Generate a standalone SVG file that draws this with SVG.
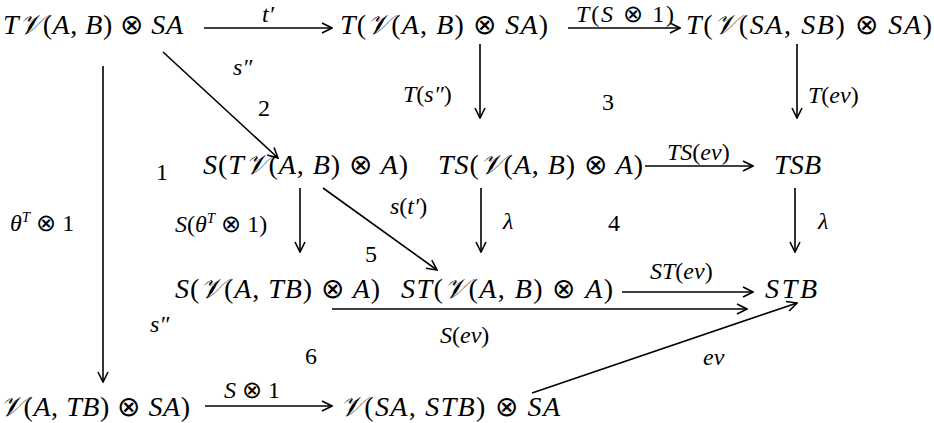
<svg xmlns="http://www.w3.org/2000/svg" width="934" height="423" viewBox="0 0 934 423">
<style>
text{font-family:'Liberation Serif','Times New Roman',serif;font-size:28px;font-style:italic;fill:#000}
.u{font-style:normal}
.lb{font-size:24px}
.n{font-style:normal;font-size:24px}
.c line{stroke:#000;stroke-width:1.6;fill:none}
</style>
<defs>
<marker id="ah" viewBox="0 0 12 12" refX="11" refY="6" markerWidth="12" markerHeight="12" markerUnits="userSpaceOnUse" orient="auto">
<path d="M1,1 L11,6 L1,11" fill="none" stroke="#000" stroke-width="1.6"/>
</marker>
</defs>
<g id="n1"><text x="3" y="34" textLength="180" lengthAdjust="spacing">T𝒱<tspan class="u">(</tspan>A<tspan class="u">, </tspan>B<tspan class="u">) ⊗ </tspan>SA</text></g>
<g id="n2"><text x="340" y="34" textLength="208" lengthAdjust="spacing">T<tspan class="u">(</tspan>𝒱<tspan class="u">(</tspan>A<tspan class="u">, </tspan>B<tspan class="u">) ⊗ </tspan>SA<tspan class="u">)</tspan></text></g>
<g id="n3"><text x="686" y="34" textLength="246" lengthAdjust="spacing">T<tspan class="u">(</tspan>𝒱<tspan class="u">(</tspan>SA<tspan class="u">, </tspan>SB<tspan class="u">) ⊗ </tspan>SA<tspan class="u">)</tspan></text></g>
<g id="n4"><text x="203" y="174" textLength="205" lengthAdjust="spacing">S<tspan class="u">(</tspan>T𝒱<tspan class="u">(</tspan>A<tspan class="u">, </tspan>B<tspan class="u">) ⊗ </tspan>A<tspan class="u">)</tspan></text></g>
<g id="n5"><text x="438" y="174" textLength="205" lengthAdjust="spacing">TS<tspan class="u">(</tspan>𝒱<tspan class="u">(</tspan>A<tspan class="u">, </tspan>B<tspan class="u">) ⊗ </tspan>A<tspan class="u">)</tspan></text></g>
<g id="n6"><text x="774" y="174" textLength="47" lengthAdjust="spacing">TSB</text></g>
<g id="n7"><text x="175" y="298" textLength="205" lengthAdjust="spacing">S<tspan class="u">(</tspan>𝒱<tspan class="u">(</tspan>A<tspan class="u">, </tspan>TB<tspan class="u">) ⊗ </tspan>A<tspan class="u">)</tspan></text></g>
<g id="n8"><text x="401" y="298" textLength="212" lengthAdjust="spacing">ST<tspan class="u">(</tspan>𝒱<tspan class="u">(</tspan>A<tspan class="u">, </tspan>B<tspan class="u">) ⊗ </tspan>A<tspan class="u">)</tspan></text></g>
<g id="n9"><text x="765" y="298" textLength="52" lengthAdjust="spacing">STB</text></g>
<g id="n10"><text x="0" y="416" textLength="190" lengthAdjust="spacing">𝒱<tspan class="u">(</tspan>A<tspan class="u">, </tspan>TB<tspan class="u">) ⊗ </tspan>SA<tspan class="u">)</tspan></text></g>
<g id="n11"><text x="340" y="416" textLength="220" lengthAdjust="spacing">𝒱<tspan class="u">(</tspan>SA<tspan class="u">, </tspan>STB<tspan class="u">) ⊗ </tspan>SA</text></g>
<g class="c" id="connectors">
<line x1="204" y1="28" x2="332" y2="28" marker-end="url(#ah)"/>
<line x1="568" y1="28" x2="680" y2="28" marker-end="url(#ah)"/>
<line x1="163" y1="52" x2="278" y2="158" marker-end="url(#ah)"/>
<line x1="103" y1="66" x2="103" y2="382" marker-end="url(#ah)"/>
<line x1="480" y1="44" x2="480" y2="118" marker-end="url(#ah)"/>
<line x1="797" y1="44" x2="797" y2="118" marker-end="url(#ah)"/>
<line x1="645" y1="166" x2="753" y2="166" marker-end="url(#ah)"/>
<line x1="300" y1="188" x2="300" y2="252" marker-end="url(#ah)"/>
<line x1="323" y1="188" x2="437" y2="270" marker-end="url(#ah)"/>
<line x1="481" y1="188" x2="481" y2="252" marker-end="url(#ah)"/>
<line x1="795" y1="188" x2="795" y2="252" marker-end="url(#ah)"/>
<line x1="622" y1="292" x2="753" y2="292" marker-end="url(#ah)"/>
<line x1="332" y1="309" x2="747" y2="309" marker-end="url(#ah)"/>
<line x1="532" y1="393" x2="797" y2="303" marker-end="url(#ah)"/>
<line x1="205" y1="406" x2="332" y2="406" marker-end="url(#ah)"/>
</g>
<g id="labels">
<text class="lb" x="262" y="22">t′</text>
<text class="lb" x="576" y="22" textLength="98" lengthAdjust="spacing">T<tspan class="u">(</tspan>S<tspan class="u"> ⊗ 1)</tspan></text>
<text class="lb" x="233" y="75">s″</text>
<text class="n" x="258" y="116">2</text>
<text class="lb" x="403" y="102">T<tspan class="u">(</tspan>s″<tspan class="u">)</tspan></text>
<text class="n" x="602" y="110">3</text>
<text class="lb" x="808" y="103">T<tspan class="u">(</tspan>ev<tspan class="u">)</tspan></text>
<text class="lb" x="667" y="160">TS<tspan class="u">(</tspan>ev<tspan class="u">)</tspan></text>
<text class="n" x="156" y="180">1</text>
<text class="lb" x="10" y="231">θ<tspan font-size="15" dy="-9">T</tspan><tspan class="u" dy="9"> ⊗ 1</tspan></text>
<text class="lb" x="175" y="232">S<tspan class="u">(</tspan>θ<tspan font-size="15" dy="-9">T</tspan><tspan class="u" dy="9"> ⊗ 1)</tspan></text>
<text class="lb" x="390" y="214">s<tspan class="u">(</tspan>t′<tspan class="u">)</tspan></text>
<text class="lb" x="503" y="229">λ</text>
<text class="n" x="608" y="231">4</text>
<text class="lb" x="818" y="229">λ</text>
<text class="n" x="365" y="262">5</text>
<text class="lb" x="650" y="279">ST<tspan class="u">(</tspan>ev<tspan class="u">)</tspan></text>
<text class="lb" x="150" y="332">s″</text>
<text class="lb" x="440" y="343">S<tspan class="u">(</tspan>ev<tspan class="u">)</tspan></text>
<text class="n" x="305" y="364">6</text>
<text class="lb" x="703" y="365">ev</text>
<text class="lb" x="224" y="398">S<tspan class="u"> ⊗ 1</tspan></text>
</g>
</svg>
